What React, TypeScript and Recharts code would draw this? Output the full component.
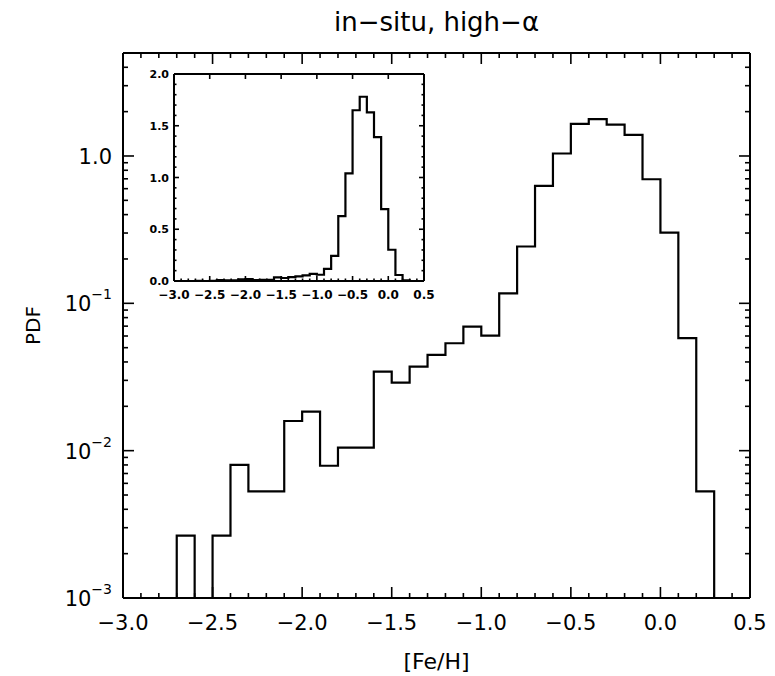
import React from 'react';
import { ComposedChart, Line, XAxis, YAxis } from 'recharts';

// ---- data ----
const binStarts = [-2.7, -2.6, -2.5, -2.4, -2.3, -2.2, -2.1, -2.0, -1.9, -1.8, -1.7, -1.6, -1.5, -1.4, -1.3, -1.2, -1.1, -1.0, -0.9, -0.8, -0.7, -0.6, -0.5, -0.4, -0.3, -0.2, -0.1, 0.0, 0.1, 0.2];
const pdfValues = [0.00265, 0, 0.00265, 0.008, 0.0053, 0.0053, 0.0159, 0.0184, 0.0079, 0.0105, 0.0105, 0.0344, 0.029, 0.0372, 0.0447, 0.0536, 0.0695, 0.0604, 0.117, 0.243, 0.627, 1.04, 1.65, 1.78, 1.63, 1.39, 0.695, 0.302, 0.058, 0.0053];
const binWidth = 0.1;

const xMajorTicks = [-3.0, -2.5, -2.0, -1.5, -1.0, -0.5, 0.0, 0.5];
const xTickLabels = ['\u22123.0', '\u22122.5', '\u22122.0', '\u22121.5', '\u22121.0', '\u22120.5', '0.0', '0.5'];
const insetXTickLabels = ['\u22123.0', '\u22122.5', '\u22122.0', '\u22121.5', '\u22121.0', '\u22120.5', '0.0', '0.5'];
const yMajorTicks = [0.001, 0.01, 0.1, 1];
const yTickBases = ['10', '10', '10', '1.0'];
const yTickExps = ['\u22123', '\u22122', '\u22121', ''];
const insetYMajorTicks = [0, 0.5, 1.0, 1.5, 2.0];
const insetYTickLabels = ['0.0', '0.5', '1.0', '1.5', '2.0'];

const titleText = 'in\u2212situ, high\u2212\u03b1';
const xTitle = '[Fe/H]';
const yTitle = 'PDF';

const X_DOMAIN: [number, number] = [-3.0, 0.5];
const Y_DOMAIN: [number, number] = [0.001, 5];
const INSET_Y_DOMAIN: [number, number] = [0, 2];

// ---- layout ----
const W = 775;
const H = 676;
const MAIN = { left: 123, right: 750, top: 53, bottom: 598 };
const INSET = { left: 174, right: 424, top: 74, bottom: 281 };
const FONT = '"DejaVu Sans", "Liberation Sans", Arial, sans-serif';

// ---- derived tables ----
const r1 = (v: number) => Math.round(v * 10) / 10;
const xAllTicks: number[] = [];
for (let i = 0; i <= 35; i++) xAllTicks.push(r1(X_DOMAIN[0] + i * 0.1));
const yAllTicks: number[] = [];
yMajorTicks.forEach((d) => {
  for (let k = 1; k <= 9; k++) {
    const v = Number((d * k).toPrecision(6));
    if (v < Y_DOMAIN[1]) yAllTicks.push(v);
  }
});
const insetYAll: number[] = [];
for (let i = 0; i <= 20; i++) insetYAll.push(r1(i * 0.1));

const isIn = (arr: number[], v: number) => arr.findIndex((t) => Math.abs(t - v) < 1e-9);

function buildSteps(floor: number) {
  const pts: { x: number; y: number }[] = [];
  pts.push({ x: binStarts[0], y: floor });
  binStarts.forEach((b, i) => pts.push({ x: b, y: Math.max(pdfValues[i], floor) }));
  pts.push({ x: r1(binStarts[binStarts.length - 1] + binWidth), y: floor });
  return pts;
}
const mainData = buildSteps(Y_DOMAIN[0]);
const insetData = buildSteps(0);

// ---- tick renderers ----
const MainBottomTick = (p: any) => {
  const { x, y, payload } = p;
  const idx = isIn(xMajorTicks, payload.value);
  const major = idx >= 0;
  return (
    <g>
      <line x1={x} x2={x} y1={y} y2={y - (major ? 11 : 5)} stroke="#000" strokeWidth={1.6} />
      {major && (
        <text x={x} y={y + 32} textAnchor="middle" fontSize={21} fontFamily={FONT} fill="#000">
          {xTickLabels[idx]}
        </text>
      )}
    </g>
  );
};
const MainTopTick = (p: any) => {
  const { x, y, payload } = p;
  const major = isIn(xMajorTicks, payload.value) >= 0;
  return <line x1={x} x2={x} y1={y} y2={y + (major ? 11 : 5)} stroke="#000" strokeWidth={1.6} />;
};
const MainLeftTick = (p: any) => {
  const { x, y, payload } = p;
  const idx = isIn(yMajorTicks, payload.value);
  const major = idx >= 0;
  return (
    <g>
      <line x1={x} x2={x + (major ? 11 : 5)} y1={y} y2={y} stroke="#000" strokeWidth={1.6} />
      {major && (
        <text x={x - 11} y={y + 8} textAnchor="end" fontSize={21} fontFamily={FONT} fill="#000">
          <tspan>{yTickBases[idx]}</tspan>
          {yTickExps[idx] && (
            <tspan fontSize={14} dy={-12}>
              {yTickExps[idx]}
            </tspan>
          )}
        </text>
      )}
    </g>
  );
};
const MainRightTick = (p: any) => {
  const { x, y, payload } = p;
  const major = isIn(yMajorTicks, payload.value) >= 0;
  return <line x1={x} x2={x - (major ? 11 : 5)} y1={y} y2={y} stroke="#000" strokeWidth={1.6} />;
};

const InsetBottomTick = (p: any) => {
  const { x, y, payload } = p;
  const idx = isIn(xMajorTicks, payload.value);
  const major = idx >= 0;
  return (
    <g>
      <line x1={x} x2={x} y1={y} y2={y - (major ? 5 : 2.5)} stroke="#000" strokeWidth={1.6} />
      {major && (
        <text x={x} y={y + 18} textAnchor="middle" fontSize={12} fontWeight="bold" fontFamily={FONT} fill="#000">
          {insetXTickLabels[idx]}
        </text>
      )}
    </g>
  );
};
const InsetTopTick = (p: any) => {
  const { x, y, payload } = p;
  const major = isIn(xMajorTicks, payload.value) >= 0;
  return <line x1={x} x2={x} y1={y} y2={y + (major ? 5 : 2.5)} stroke="#000" strokeWidth={1.6} />;
};
const InsetLeftTick = (p: any) => {
  const { x, y, payload } = p;
  const idx = isIn(insetYMajorTicks, payload.value);
  const major = idx >= 0;
  return (
    <g>
      <line x1={x} x2={x + (major ? 5 : 2.5)} y1={y} y2={y} stroke="#000" strokeWidth={1.6} />
      {major && (
        <text x={x - 5} y={y + 4} textAnchor="end" fontSize={11} fontWeight="bold" fontFamily={FONT} fill="#000">
          {insetYTickLabels[idx]}
        </text>
      )}
    </g>
  );
};
const InsetRightTick = (p: any) => {
  const { x, y, payload } = p;
  const major = isIn(insetYMajorTicks, payload.value) >= 0;
  return <line x1={x} x2={x - (major ? 5 : 2.5)} y1={y} y2={y} stroke="#000" strokeWidth={1.6} />;
};

const axisLine = { stroke: '#000', strokeWidth: 2 };

function Panel(props: { box: typeof MAIN; data: any[]; yDomain: [number, number]; log: boolean;
  xTicksB: number[]; xTicksT: number[]; yTicks: number[]; ticks: any[] }) {
  const { box, data, yDomain, log, xTicksB, xTicksT, yTicks, ticks } = props;
  const [BT, TT, LT, RT] = ticks;
  return (
    <ComposedChart
      width={W}
      height={H}
      data={data}
      margin={{ left: box.left - 1, right: W - box.right - 1, top: box.top - 1, bottom: H - box.bottom - 1 }}
    >
      <XAxis xAxisId="b" dataKey="x" type="number" domain={X_DOMAIN} ticks={xTicksB} interval={0}
        height={1} tickSize={0} tickMargin={0} axisLine={axisLine} tickLine={false} tick={BT} allowDataOverflow />
      <XAxis xAxisId="t" orientation="top" dataKey="x" type="number" domain={X_DOMAIN} ticks={xTicksT} interval={0}
        height={1} tickSize={0} tickMargin={0} axisLine={axisLine} tickLine={false} tick={TT} allowDataOverflow />
      <YAxis yAxisId="l" type="number" scale={log ? 'log' : 'linear'} domain={yDomain} ticks={yTicks} interval={0}
        width={1} tickSize={0} tickMargin={0} axisLine={axisLine} tickLine={false} tick={LT} allowDataOverflow />
      <YAxis yAxisId="r" orientation="right" type="number" scale={log ? 'log' : 'linear'} domain={yDomain} ticks={yTicks} interval={0}
        width={1} tickSize={0} tickMargin={0} axisLine={axisLine} tickLine={false} tick={RT} allowDataOverflow />
      <Line xAxisId="b" yAxisId="l" dataKey="y" type="stepAfter" stroke="#000" strokeWidth={2.2}
        dot={false} activeDot={false} isAnimationActive={false} />
    </ComposedChart>
  );
}

export default function App() {
  return (
    <div style={{ position: 'absolute', left: 0, top: 0, width: W, height: H, background: '#fff' }}>
      <div style={{ position: 'absolute', left: 0, top: 0 }}>
        <Panel box={MAIN} data={mainData} yDomain={Y_DOMAIN} log={true} xTicksB={xAllTicks} xTicksT={xAllTicks}
          yTicks={yAllTicks} ticks={[MainBottomTick, MainTopTick, MainLeftTick, MainRightTick]} />
      </div>
      <div style={{ position: 'absolute', left: 0, top: 0 }}>
        <Panel box={INSET} data={insetData} yDomain={INSET_Y_DOMAIN} log={false} xTicksB={xAllTicks} xTicksT={xMajorTicks}
          yTicks={insetYAll} ticks={[InsetBottomTick, InsetTopTick, InsetLeftTick, InsetRightTick]} />
      </div>
      <div style={{ position: 'absolute', left: 0, top: 0, pointerEvents: 'none' }}>
        <svg width={W} height={H}>
          <text x={(MAIN.left + MAIN.right) / 2} y={31} textAnchor="middle" fontSize={26} fontFamily={FONT} fill="#000">
            {titleText}
          </text>
          <text x={(MAIN.left + MAIN.right) / 2} y={669} textAnchor="middle" fontSize={22} fontFamily={FONT} fill="#000">
            {xTitle}
          </text>
          <text x={40} y={(MAIN.top + MAIN.bottom) / 2} textAnchor="middle" fontSize={20} fontFamily={FONT} fill="#000"
            transform={`rotate(-90 40 ${(MAIN.top + MAIN.bottom) / 2})`}>
            {yTitle}
          </text>
        </svg>
      </div>
    </div>
  );
}
